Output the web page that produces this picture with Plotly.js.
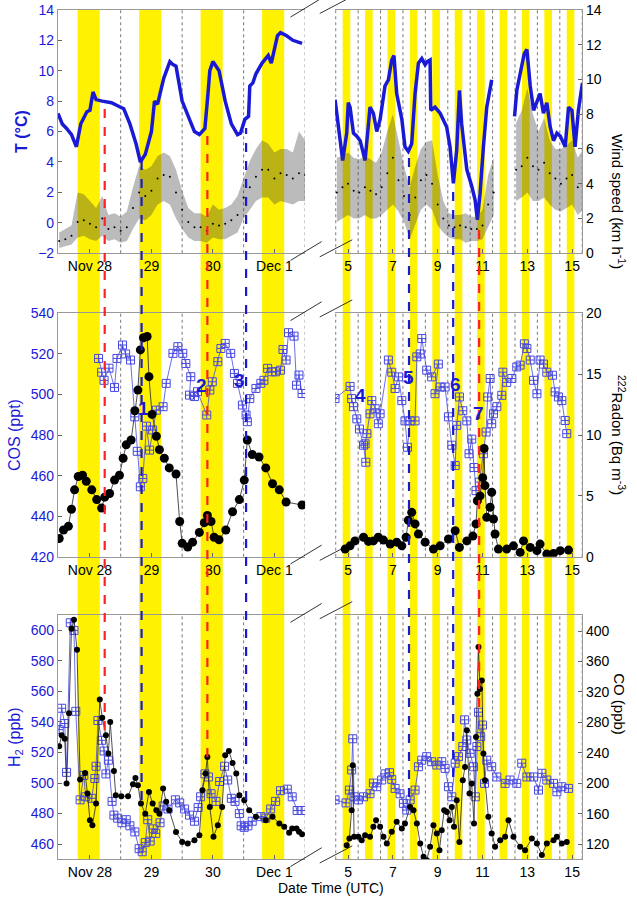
<!DOCTYPE html>
<html>
<head>
<meta charset="utf-8">
<script src="https://cdn.plot.ly/plotly-3.0.1.min.js"></script>
<style>body{margin:0;background:#fff}#chart{width:637px;height:898px}</style>
</head>
<body>
<div id="chart"></div>
<script>
// ---- row 1: temperature (left axis) and wind speed (right axis)
var tempTL = [27.48,27.55,27.62,27.7,27.78,27.85,27.95,28.0,28.05,28.1,28.2,28.35,28.45,28.55,28.65,28.75,28.82,28.9,29.0,29.05,29.1,29.2,29.3,29.35,29.4,29.5,29.6,29.7,29.78,29.87,29.92,29.95,30.0,30.1,30.2,30.3,30.4,30.45,30.52,30.58,30.6,30.65,30.7,30.8,30.9,30.95,31.05,31.1,31.2,31.3,31.45];
var tempVL = [7.2,6.5,6.2,5.8,5.0,6.5,7.3,7.4,8.6,8.1,8.0,7.9,7.7,7.5,6.5,5.2,4.0,4.5,6.0,8.0,7.8,9.5,10.6,10.4,10.3,8.0,7.0,6.0,5.8,6.2,8.5,10.0,10.6,10.0,8.0,6.5,5.8,5.9,6.8,7.0,9.0,9.2,9.8,10.5,11.0,10.5,12.3,12.5,12.3,12.0,11.8];
var tempTR = [4.42,4.57,4.76,4.94,5.01,5.09,5.24,5.39,5.54,5.76,5.91,5.98,6.13,6.28,6.43,6.65,6.8,6.95,7.05,7.17,7.4,7.54,7.69,7.84,7.99,8.14,8.29,8.44,8.54,8.66,8.69,8.88,9.11,9.4,9.55,9.7,9.85,9.97,10.07,10.3,10.52,10.67,10.77,10.89,11.04,11.19,11.41,11.9,12.43,12.53,12.68,12.86,12.98,13.13,13.28,13.57,13.72,13.87,14.02,14.17,14.32,14.47,14.69,14.84,14.99,15.13,15.28,15.46];
var tempVR = [8.1,6.5,4.1,5.9,7.9,7.6,5.9,5.7,5.4,4.1,7.0,7.6,7.2,6.0,6.8,9.0,9.4,10.7,11.0,8.5,6.8,5.0,4.7,5.2,8.5,10.5,10.8,10.4,10.6,10.7,7.4,7.6,7.2,6.3,5.0,2.6,4.8,8.7,6.5,3.5,2.4,1.5,0.2,1.9,5.0,7.6,9.4,null,7.0,8.7,9.8,11.1,11.4,9.0,7.4,8.5,7.2,7.9,6.3,5.4,5.9,5.7,5.0,7.6,7.4,5.0,7.4,9.2];

var windTL = [27.5,27.6,27.7,27.8,27.9,28.0,28.1,28.2,28.3,28.4,28.5,28.6,28.7,28.8,28.9,29.0,29.1,29.2,29.3,29.4,29.5,29.6,29.7,29.8,29.9,30.0,30.1,30.2,30.3,30.4,30.5,30.6,30.7,30.8,30.9,31.0,31.1,31.2,31.3,31.4,31.5];
var windMidL = [0.7,0.8,1.0,1.8,1.9,1.7,1.5,2.0,1.4,1.5,1.3,1.5,2.6,3.5,3.3,3.6,4.3,4.5,4.4,3.5,2.5,1.8,1.5,1.5,1.3,1.7,1.6,1.7,1.9,2.2,3.2,3.8,4.4,4.8,4.8,4.3,4.6,4.5,4.3,4.6,4.5];
var windLoL = [0.3,0.4,0.5,0.9,1.0,0.8,0.7,1.0,0.7,0.8,0.6,0.7,1.4,2.0,1.9,2.2,2.8,3.0,2.8,2.0,1.4,0.9,0.7,0.7,0.6,0.9,0.8,0.8,1.0,1.2,2.0,2.5,3.0,3.2,3.2,2.8,3.0,2.9,2.8,3.0,3.0];
var windHiL = [1.2,1.4,1.6,3.5,3.4,3.0,2.6,3.3,2.2,2.3,2.1,2.4,3.8,5.0,4.8,5.0,5.6,5.8,5.6,4.8,3.6,2.6,2.3,2.3,2.1,2.8,2.5,2.6,2.8,3.3,4.3,5.3,6.0,6.5,6.3,5.8,6.0,6.0,5.8,7.0,6.5];
var windTR = [4.5,4.75,5,5.25,5.5,5.75,6,6.25,6.5,6.75,7,7.25,7.5,7.75,8,8.25,8.5,8.75,9,9.25,9.5,9.75,10,10.25,10.5,10.75,11,11.25,11.5,11.75,12,12.25,12.5,12.75,13,13.25,13.5,13.75,14,14.25,14.5,14.75,15,15.25,15.5];
var windMidR = [3.5,3.8,4.0,3.6,3.5,3.8,3.6,3.4,3.8,4.6,5.5,4.2,3.3,2.2,3.2,4.2,4.5,4.0,2.8,2.0,1.6,1.5,1.6,1.5,1.4,1.4,1.6,2.8,3.5,null,null,null,4.8,5.0,5.5,5.0,4.8,5.2,4.6,4.3,4.0,4.3,4.5,3.8,4.2];
var windLoR = [1.8,2.0,2.2,2.0,2.0,2.2,2.0,2.0,2.2,2.5,2.8,2.4,1.8,0.8,1.6,2.5,2.8,2.5,1.6,1.2,0.9,0.8,0.8,0.6,0.7,0.7,0.8,1.5,2.2,null,null,null,3.0,3.2,3.5,3.0,3.0,3.2,2.8,2.5,2.4,2.6,2.8,2.2,2.5];
var windHiR = [5.5,5.6,5.8,5.5,5.4,5.6,5.4,5.2,5.8,7.0,8.0,6.5,5.0,3.8,5.0,6.0,6.4,6.5,4.5,3.0,2.3,2.2,2.2,2.3,2.1,2.1,2.5,4.5,5.5,null,null,null,7.5,8.2,9.5,8.0,7.0,7.8,6.5,6.0,6.0,6.2,6.5,5.5,6.0];

// ---- row 2: COS (left axis) and radon (right axis)
var cosTL = [28.14,28.19,28.23,28.31,28.40,28.44,28.53,28.58,28.66,28.73,28.77,28.82,28.86,28.92,28.97,29.02,29.08,29.19,29.24,29.35,29.43,29.51,29.56,29.64,29.62,29.70,29.75,29.90,29.95,29.99,30.08,30.13,30.20,30.29,30.35,30.40,30.48,30.54,30.56,30.60,30.70,30.78,30.83,30.89,30.96,31.02,31.10,31.14,31.19,31.23,31.32,31.36,31.40,31.45];
var cosVL = [517.8,511,507,513,503.5,517.8,524.4,520,517,489,472,454.5,458.6,484.4,472.6,482.5,492.3,494,505.5,520.3,523.6,520.3,515.3,508.8,499.7,499,501.4,489.9,502.2,506.3,516.2,522.7,525.2,520.3,510.4,505.5,494.8,489.9,486.6,498,503,505.5,507,512.9,511.2,511.2,512,522.2,517,530.5,528.8,504.6,509.6,500.5];
var rnTL = [27.50,27.57,27.65,27.70,27.75,27.81,27.88,27.94,28.03,28.11,28.19,28.24,28.32,28.40,28.48,28.54,28.59,28.67,28.73,28.78,28.82,28.87,28.93,28.96,29.01,29.08,29.13,29.21,29.29,29.40,29.46,29.50,29.59,29.67,29.78,29.86,29.91,29.97,30.02,30.10,30.21,30.32,30.43,30.51,30.56,30.64,30.75,30.86,30.97,31.08,31.19,31.45];
var rnVL = [1.5,2.2,2.5,3.9,5.5,6.6,6.7,6.2,5.5,4.7,4.0,4.9,5.2,6.3,6.7,8.1,9.2,9.6,12.0,13.7,17.0,18.0,18.1,14.8,11.7,9.9,8.8,8.1,7.3,6.8,2.9,1.1,0.8,1.2,2.0,2.8,3.4,2.9,1.6,1.4,2.2,3.7,4.7,6.3,9.6,8.4,8.2,7.3,6.0,5.5,4.5,4.25];
var cosTR = [4.42,5.09,5.16,5.24,5.39,5.51,5.69,5.79,5.76,5.84,5.98,6.06,6.21,6.35,6.43,6.80,6.95,7.10,7.25,7.40,7.54,7.65,7.77,7.99,8.07,8.22,8.29,8.51,8.73,9.03,8.88,9.11,9.33,9.48,9.63,9.78,9.85,9.97,10.12,10.30,10.40,10.52,10.62,10.71,10.86,11.04,11.16,11.23,11.34,11.41,11.49,11.64,11.86,11.91,12.08,12.31,12.53,12.68,12.87,12.98,13.13,13.28,13.43,13.57,13.72,13.87,14.12,14.24,14.39,14.54,14.69,14.76];
var cosVR = [498,504,498,494,488,483,475,466.6,475.7,480.7,490.5,497,493,485.6,490.5,517,511,503,508.7,497,487,474,487,487,518.6,520,527.6,512,508.7,515,500.4,503.7,503.7,489,475,465,484.8,498.8,492,487,470.8,478,464,452.6,456.8,470.8,481.5,498.8,507.9,485.6,490.5,494,499.6,511,506,507.9,513.6,514.5,525,522.7,517,507,500.4,517,515,511,509.5,501.3,498.8,497,487.2,480.7];
var rnTR = [4.87,5.09,5.31,5.69,5.91,6.13,6.35,6.58,6.88,7.17,7.40,7.59,7.69,7.84,7.99,8.14,8.44,8.81,9.11,9.48,9.78,9.97,10.30,10.57,10.71,10.77,10.89,11.01,11.07,11.11,11.19,11.34,11.41,11.49,11.56,11.71,12.08,12.38,12.68,12.83,13.13,13.43,13.57,13.87,14.17,14.47,14.84];
var rnVR = [0.63,0.9,1.3,1.6,1.26,1.3,1.6,1.37,1.04,1.2,0.9,1.6,3.0,3.65,2.7,1.87,1.2,0.63,0.9,1.46,2.14,0.77,1.3,1.7,2.7,4.6,5.0,6.5,8.9,5.85,3.24,4.07,5.3,3.1,1.87,0.63,0.63,0.9,0.36,1.3,0.77,0.5,1.04,0.22,0.27,0.5,0.55];

// ---- row 3: H2 (left axis) and CO (right axis)
var h2TL = [27.50,27.54,27.59,27.62,27.68,27.74,27.77,27.84,27.90,27.93,28.03,28.08,28.10,28.13,28.19,28.23,28.26,28.30,28.36,28.39,28.45,28.52,28.59,28.65,28.73,28.80,28.85,28.90,28.94,28.98,29.03,29.07,29.14,29.19,29.27,29.39,29.46,29.54,29.62,29.70,29.76,29.80,29.87,29.93,29.97,30.05,30.11,30.19,30.24,30.30,30.36,30.43,30.46,30.51,30.57,30.64,30.78,30.86,30.94,31.02,31.10,31.21,31.29,31.37,31.45];
var h2VL = [535,549,539,507,605,600,547,489,505,491,490,503,511,541,528,521,506,515,488,479,477,474,476,472,468,457,455,461,476,462,470,467,474,485,483,489,487,483,479,475,484,491,506,504,493,488,501,511,502,490,488,480,472,471,472,475,478,477,483,488,495,496,491,482,482];
var coTL = [27.50,27.54,27.59,27.62,27.66,27.70,27.74,27.79,27.84,27.92,27.96,28.00,28.04,28.10,28.16,28.20,28.26,28.30,28.33,28.39,28.42,28.51,28.62,28.70,28.74,28.78,28.83,28.90,28.96,29.02,29.08,29.13,29.19,29.24,29.29,29.40,29.50,29.59,29.70,29.78,29.83,29.88,29.91,29.95,30.01,30.08,30.15,30.20,30.26,30.32,30.38,30.43,30.51,30.59,30.70,30.86,30.97,31.08,31.16,31.24,31.29,31.36,31.40,31.45];
var coVL = [248.6,263,258.7,199.6,292,403,414.9,375.5,204.9,213.6,186.5,151.5,145,173.4,310,286,263,239,280.6,216,184.3,183,183,198.8,207,197.4,173.4,160,188.7,173.4,164.6,160,193,175.6,164.6,136,123,120.9,125.3,131.8,191,212.8,234.6,169,129.6,145,169,236.8,242.5,226.8,212.8,184.3,177.7,164.6,155.9,151.5,155.9,147.1,142.8,134.9,140.6,140.6,136.2,133.1];
var h2TR = [4.42,4.91,5.06,5.16,5.21,5.27,5.46,5.69,5.98,6.13,6.28,6.5,6.65,6.85,6.95,7.10,7.32,7.47,7.62,7.77,7.99,8.14,8.29,8.51,8.73,8.96,9.18,9.33,9.48,9.63,9.78,9.93,10.12,10.20,10.30,10.45,10.60,10.68,10.75,10.82,10.92,11.0,11.09,11.19,11.41,11.64,12.01,12.23,12.53,12.75,12.98,13.28,13.50,13.65,13.87,14.17,14.32,14.54,14.84];
var h2VR = [489,487,495.4,508.6,529,491,489,491,493,500,497.6,502,506,506.8,502.4,496.5,493,486.7,482.3,489,495.4,510.7,515,517.3,514,511.8,514,509.6,497.6,491,513,517.3,523.9,541.4,528.2,519.5,510.7,491,523.9,546.4,530.4,538,499.8,515,510.7,504,499.8,502,499.8,513,504,504,495.4,506.4,502,499.8,494.3,497.6,496.5];
var coTR = [4.94,5.06,5.16,5.21,5.27,5.46,5.61,5.76,5.98,6.13,6.25,6.43,6.58,6.73,6.95,7.17,7.40,7.54,7.77,7.92,8.07,8.22,8.37,8.51,8.66,8.81,8.96,9.08,9.18,9.29,9.41,9.53,9.63,9.73,9.85,9.97,10.12,10.22,10.30,10.42,10.52,10.62,10.71,10.77,10.82,10.89,10.97,11.04,11.11,11.26,11.41,11.56,11.79,12.01,12.16,12.38,12.68,12.90,13.20,13.43,13.65,13.87,14.17,14.32,14.54,14.76];
var coVR = [118.7,127.4,164.6,223.7,129.6,129.6,125.3,131.8,129.6,142.8,151.5,142.8,129.6,120.9,136.2,149.3,140.6,147.1,169,164.6,147.1,120.9,103.4,99,116.5,144.9,134,112.1,138.4,164.6,162.4,151.5,169,142.8,177.8,123,204,221.5,269.6,186.5,199.6,147.1,260.9,317.8,379,324,335.2,239,204,155.9,134,116.5,125.3,129.6,151.5,129.6,116.5,112.1,127.4,120.9,105.6,120.9,125.3,129.6,120.9,123];

// ---- axes ticks and event markers
var daysL = [28,29,30,31];
var dayTextL = ['Nov 28','29','30','Dec 1'];
var daysR = [5,7,9,11,13,15];
var eventNo = ['1','2','3','4','5','6','7'];
var eventT = [28.87,29.81,30.44,5.54,7.68,9.78,10.8];
var eventCOS = [493,504.6,507,499.7,508.5,505,490.8];

var BLUE = '#1a1ad6', SQ = '#4848e0';
var FONT = 'Liberation Sans, Arial, sans-serif';
var rows = [[0.718,0.989],[0.380,0.651],[0.043,0.315]];
var xL = [0.091,0.479], xR = [0.526,0.914];
var rangeL = [27.48,31.5], rangeR = [4.42,15.45];

// shaded wind spread, split into pieces where data are missing
function band(t, lo, hi, xa, ya) {
  var out = [], seg = null;
  for (var i = 0; i <= t.length; i++) {
    if (i < t.length && lo[i] != null) {
      if (!seg) seg = {t: [], lo: [], hi: []};
      seg.t.push(t[i]); seg.lo.push(lo[i]); seg.hi.push(hi[i]);
    } else if (seg) {
      out.push({x: seg.t, y: seg.lo, xaxis: xa, yaxis: ya, mode: 'lines', line: {width: 0}});
      out.push({x: seg.t, y: seg.hi, xaxis: xa, yaxis: ya, mode: 'lines', line: {width: 0},
        fill: 'tonexty', fillcolor: 'rgba(60,60,60,0.35)'});
      seg = null;
    }
  }
  return out;
}
function dots(t, v, xa, ya, size) {
  return {x: t, y: v, xaxis: xa, yaxis: ya, mode: 'lines+markers', line: {color: '#222', width: 0.8},
    marker: {color: 'black', size: size}};
}
function squares(t, v, xa, ya) {
  return {x: t, y: v, xaxis: xa, yaxis: ya, mode: 'lines+markers', line: {color: SQ, width: 0.8},
    marker: {symbol: 'square-cross-open', color: SQ, size: 8, line: {width: 1}}};
}

var data = [].concat(
  band(windTL, windLoL, windHiL, 'x', 'y2'),
  band(windTR, windLoR, windHiR, 'x2', 'y4'),
  [{x: windTL, y: windMidL, xaxis: 'x', yaxis: 'y2', mode: 'markers', marker: {color: 'black', size: 2}},
   {x: windTR, y: windMidR, xaxis: 'x2', yaxis: 'y4', mode: 'markers', marker: {color: 'black', size: 2}},
   {x: tempTL, y: tempVL, xaxis: 'x', yaxis: 'y', mode: 'lines', line: {color: BLUE, width: 3.5}},
   {x: tempTR, y: tempVR, xaxis: 'x2', yaxis: 'y3', mode: 'lines', line: {color: BLUE, width: 3.5}},
   dots(rnTL, rnVL, 'x3', 'y6', 9), squares(cosTL, cosVL, 'x3', 'y5'),
   dots(rnTR, rnVR, 'x4', 'y8', 9), squares(cosTR, cosVR, 'x4', 'y7'),
   squares(h2TL, h2VL, 'x5', 'y9'), dots(coTL, coVL, 'x5', 'y10', 6),
   squares(h2TR, h2VR, 'x6', 'y11'), dots(coTR, coVR, 'x6', 'y12', 6)]
);

var tickF = {family: FONT, size: 14, color: 'black'};
var tickB = {family: FONT, size: 14, color: BLUE};
function xa(dom, rng, vals, txt, anchor) {
  return {domain: dom, range: rng, anchor: anchor, tickvals: vals, ticktext: txt, tickfont: tickF,
    showgrid: false, zeroline: false, showline: true, mirror: true, linecolor: '#999', ticks: 'inside',
    ticklen: 4, tickcolor: '#666'};
}
function yaLeft(dom, rng, dtick, anchor, title) {
  return {domain: dom, range: rng, anchor: anchor, dtick: dtick, tickfont: tickB, showgrid: false,
    zeroline: false, showline: true, linecolor: '#999', ticks: 'inside', ticklen: 4, tickcolor: '#666',
    title: {text: title, font: {family: FONT, size: 16, color: BLUE}, standoff: 6}};
}
function yaHide(dom, rng, anchor, over) {
  var a = {domain: dom, range: rng, anchor: anchor, visible: false};
  if (over) a.overlaying = over;
  return a;
}
function yaRight(rng, dtick, anchor, over, tv) {
  var a = {range: rng, anchor: anchor, overlaying: over, side: 'right', tickfont: tickF, showgrid: false,
    zeroline: false, showline: true, linecolor: '#999', ticks: 'inside', ticklen: 4, tickcolor: '#666'};
  if (tv) a.tickvals = tv; else a.dtick = dtick;
  return a;
}

var shapes = [];
// yellow night bands spanning all three rows
[28,29,30,31].forEach(function (d) {
  shapes.push({type: 'rect', xref: 'x', yref: 'paper', x0: d - 0.2, x1: d + 0.16, y0: rows[2][0], y1: rows[0][1],
    fillcolor: '#fff200', line: {width: 0}, layer: 'below'});
});
for (var d = 5; d <= 15; d++) {
  shapes.push({type: 'rect', xref: 'x2', yref: 'paper', x0: d - 0.24, x1: d + 0.1, y0: rows[2][0], y1: rows[0][1],
    fillcolor: '#fff200', line: {width: 0}, layer: 'below'});
}
// dotted midday lines per row
rows.forEach(function (r) {
  [28.5,29.5,30.5,31.5].forEach(function (g) {
    shapes.push({type: 'line', xref: 'x', yref: 'paper', x0: g, x1: g, y0: r[0], y1: r[1],
      line: {color: '#555', width: 0.8, dash: 'dot'}, layer: 'below'});
  });
  for (var g = 4.45; g < 15.5; g += 1) {
    shapes.push({type: 'line', xref: 'x2', yref: 'paper', x0: g, x1: g, y0: r[0], y1: r[1],
      line: {color: '#555', width: 0.8, dash: 'dot'}, layer: 'below'});
  }
  // axis-break slashes
  [r[0], r[1]].forEach(function (yb) {
    shapes.push({type: 'line', xref: 'paper', yref: 'paper', x0: 0.456, x1: 0.505, y0: yb - 0.008, y1: yb + 0.013, line: {color: 'black', width: 0.8}});
    shapes.push({type: 'line', xref: 'paper', yref: 'paper', x0: 0.502, x1: 0.553, y0: yb - 0.004, y1: yb + 0.015, line: {color: 'black', width: 0.8}});
  });
});
// dashed event lines
function ev(xr, t, y0px, y1px, col) {
  shapes.push({type: 'line', xref: xr, yref: 'paper', x0: t, x1: t, y0: 1 - y1px / 898, y1: 1 - y0px / 898,
    line: {color: col, width: 2.2, dash: 'dash'}});
}
ev('x', 28.24, 102, 730, '#ff2020');
ev('x', 28.84, 160, 800, BLUE);
ev('x', 29.91, 136, 757, '#ff2020');
ev('x', 30.54, 128, 800, BLUE);
ev('x2', 7.72, 150, 797, BLUE);
ev('x2', 9.69, 180, 777, BLUE);
ev('x2', 10.85, 225, 707, '#ff2020');

var annotations = eventNo.map(function (n, i) {
  return {text: '<b>' + n + '</b>', xref: i < 3 ? 'x3' : 'x4', yref: i < 3 ? 'y5' : 'y7', x: eventT[i], y: eventCOS[i],
    showarrow: false, font: {family: FONT, size: 19, color: BLUE}};
});
function rTitle(txt, r) {
  annotations.push({text: txt, xref: 'paper', yref: 'paper', x: 0.99, xanchor: 'right', y: (r[0] + r[1]) / 2, textangle: 90,
    showarrow: false, font: {family: FONT, size: 15, color: 'black'}});
}
rTitle('Wind speed (km h<sup>-1</sup>)', rows[0]);
rTitle('<sup>222</sup>Radon (Bq m<sup>-3</sup>)', rows[1]);
rTitle('CO (ppb)', rows[2]);
annotations.push({text: 'Date Time (UTC)', xref: 'paper', yref: 'paper', x: 0.52, y: 0, yanchor: 'bottom',
  showarrow: false, font: {family: FONT, size: 14, color: 'black'}});

var layout = {
  width: 637, height: 898, margin: {l: 0, r: 0, t: 0, b: 0}, showlegend: false,
  paper_bgcolor: 'white', plot_bgcolor: 'rgba(0,0,0,0)', font: {family: FONT},
  xaxis: xa(xL, rangeL, daysL, dayTextL, 'y'),
  xaxis2: xa(xR, rangeR, daysR, null, 'y3'),
  xaxis3: xa(xL, rangeL, daysL, dayTextL, 'y5'),
  xaxis4: xa(xR, rangeR, daysR, null, 'y7'),
  xaxis5: xa(xL, rangeL, daysL, dayTextL, 'y9'),
  xaxis6: xa(xR, rangeR, daysR, null, 'y11'),
  yaxis: yaLeft(rows[0], [-2,14], 2, 'x', '<b>T (°C)</b>'),
  yaxis2: yaHide(rows[0], [0,14], 'x', 'y'),
  yaxis3: yaHide(rows[0], [-2,14], 'x2'),
  yaxis4: yaRight([0,14], 2, 'x2', 'y3'),
  yaxis5: yaLeft(rows[1], [420,540], 20, 'x3', 'COS (ppt)'),
  yaxis6: yaHide(rows[1], [0,20], 'x3', 'y5'),
  yaxis7: yaHide(rows[1], [420,540], 'x4'),
  yaxis8: yaRight([0,20], 5, 'x4', 'y7'),
  yaxis9: yaLeft(rows[2], [450,610], 20, 'x5', 'H<sub>2</sub> (ppb)'),
  yaxis10: yaHide(rows[2], [100,421], 'x5', 'y9'),
  yaxis11: yaHide(rows[2], [450,610], 'x6'),
  yaxis12: yaRight([100,421], 40, 'x6', 'y11', [120,160,200,240,280,320,360,400]),
  shapes: shapes, annotations: annotations
};
layout.yaxis9.tickvals = [460,480,500,520,540,560,580,600];

Plotly.newPlot('chart', data, layout, {staticPlot: true});
</script>
</body>
</html>
